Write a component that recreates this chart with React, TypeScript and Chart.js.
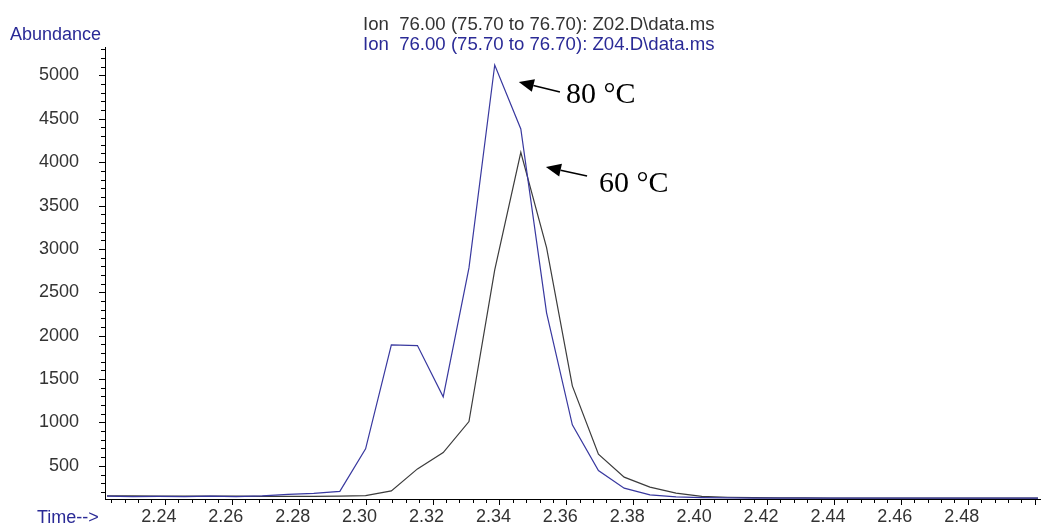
import { useEffect, useRef } from 'react';
import { Chart, registerables } from 'chart.js';

Chart.register(...registerables);

// Retention time (min) of each scan
const times = [
  2.2227, 2.2304, 2.2381, 2.2459, 2.2536, 2.2613, 2.2691, 2.2768, 2.2845, 2.2923,
  2.3000, 2.3077, 2.3155, 2.3232, 2.3309, 2.3386, 2.3464, 2.3541, 2.3618, 2.3696,
  2.3773, 2.3850, 2.3928, 2.4005, 2.4082, 2.4159, 2.4237, 2.4314, 2.4391, 2.4469,
  2.4546, 2.4623, 2.4701, 2.4778, 2.4855, 2.4933, 2.5010,
];

// Z04 (80 °C), blue trace
const abundanceZ04 = [
  150, 146, 148, 145, 152, 146, 155, 172, 183, 206,
  696, 1894, 1886, 1295, 2781, 5119, 4382, 2263, 972, 446,
  243, 166, 142, 134, 130, 128, 127, 128, 127, 127,
  128, 127, 127, 128, 127, 127, 127,
];

// Z02 (60 °C), black trace
const abundanceZ02 = [
  155, 154, 152, 150, 150, 150, 148, 148, 148, 150,
  158, 212, 465, 653, 1010, 2758, 4114, 3015, 1422, 635,
  370, 255, 186, 148, 138, 133, 131, 130, 129, 129,
  128, 128, 128, 128, 128, 128, 128,
];

const xTickValues = [2.24, 2.26, 2.28, 2.3, 2.32, 2.34, 2.36, 2.38, 2.4, 2.42, 2.44, 2.46, 2.48];
const yTickValues = [500, 1000, 1500, 2000, 2500, 3000, 3500, 4000, 4500, 5000];

const titleLines = [
  'Ion  76.00 (75.70 to 76.70): Z02.D\\data.ms',
  'Ion  76.00 (75.70 to 76.70): Z04.D\\data.ms',
];

// Arrow annotations in data units: [time, abundance]
const annotationLabels = ['80 °C', '60 °C'];
const annotationTips = [[2.3458, 4924], [2.3539, 3944]];
const annotationTails = [[2.3581, 4808], [2.3662, 3841]];

const BLUE = '#38389f';
const BLACK = '#3c3c3c';
const TEXT_BLUE = '#2a2a96';
const SANS = '"Liberation Sans", Arial, sans-serif';

const decorPlugin = {
  id: 'decor',
  afterDraw(chart: any) {
    const { ctx, chartArea } = chart;
    const xs = chart.scales.x;
    const ys = chart.scales.y;
    ctx.save();
    // tick marks
    ctx.strokeStyle = '#000';
    ctx.lineWidth = 1;
    for (let i = Math.ceil(xs.min / 0.004); i * 0.004 <= xs.max + 1e-9; i++) {
      const px = Math.round(xs.getPixelForValue(i * 0.004)) + 0.5;
      const major = i % 5 === 0;
      ctx.beginPath();
      ctx.moveTo(px, chartArea.bottom);
      ctx.lineTo(px, chartArea.bottom + (major ? 6 : 4));
      ctx.stroke();
    }
    for (let i = Math.ceil(ys.min / 100); i * 100 <= ys.max; i++) {
      const py = Math.round(ys.getPixelForValue(i * 100)) + 0.5;
      const major = i % 5 === 0;
      ctx.beginPath();
      ctx.moveTo(chartArea.left, py);
      ctx.lineTo(chartArea.left - (major ? 6 : 4), py);
      ctx.stroke();
    }

    // texts
    ctx.font = `18px ${SANS}`;
    ctx.textBaseline = 'alphabetic';
    ctx.textAlign = 'left';
    ctx.fillStyle = TEXT_BLUE;
    ctx.fillText('Abundance', 10, 40);
    ctx.fillText('Time-->', 37, 523);
    ctx.font = `18.6px ${SANS}`;
    ctx.fillStyle = '#333';
    ctx.fillText(titleLines[0], 363, 29.5);
    ctx.fillStyle = TEXT_BLUE;
    ctx.fillText(titleLines[1], 363, 50);

    // annotations
    ctx.fillStyle = '#000';
    ctx.strokeStyle = '#000';
    ctx.font = `30px "Liberation Serif", "Times New Roman", serif`;
    for (let i = 0; i < annotationLabels.length; i++) {
      const tx = xs.getPixelForValue(annotationTips[i][0]);
      const ty = ys.getPixelForValue(annotationTips[i][1]);
      const sx = xs.getPixelForValue(annotationTails[i][0]);
      const sy = ys.getPixelForValue(annotationTails[i][1]);
      const ang = Math.atan2(ty - sy, tx - sx);
      const hl = 15, hw = 6.5;
      const bx = tx - hl * Math.cos(ang);
      const by = ty - hl * Math.sin(ang);
      ctx.lineWidth = 1.6;
      ctx.beginPath();
      ctx.moveTo(sx, sy);
      ctx.lineTo(bx, by);
      ctx.stroke();
      ctx.beginPath();
      ctx.moveTo(tx, ty);
      ctx.lineTo(bx + hw * Math.sin(ang), by - hw * Math.cos(ang));
      ctx.lineTo(bx - hw * Math.sin(ang), by + hw * Math.cos(ang));
      ctx.closePath();
      ctx.fill();
      ctx.fillText(annotationLabels[i], sx + (i === 0 ? 6 : 12), sy + (i === 0 ? 11 : 16));
    }
    ctx.restore();
  },
};

export default function App() {
  const ref = useRef<HTMLCanvasElement | null>(null);

  useEffect(() => {
    if (!ref.current) return;
    const chart = new Chart(ref.current, {
      type: 'line',
      data: {
        datasets: [
          {
            label: 'Z04',
            data: times.map((t, i) => ({ x: t, y: abundanceZ04[i] })),
            borderColor: BLUE,
            borderWidth: 1.2,
            pointRadius: 0,
            tension: 0,
            fill: false,
          },
          {
            label: 'Z02',
            data: times.map((t, i) => ({ x: t, y: abundanceZ02[i] })),
            borderColor: BLACK,
            borderWidth: 1.2,
            pointRadius: 0,
            tension: 0,
            fill: false,
          },
        ],
      },
      options: {
        animation: false,
        responsive: false,
        devicePixelRatio: 1,
        layout: { padding: { top: 47, left: 0, right: 1, bottom: 0 } },
        plugins: {
          legend: { display: false },
          tooltip: { enabled: false },
          title: { display: false },
        },
        scales: {
          x: {
            type: 'linear',
            min: 2.2221,
            max: 2.5016,
            grid: { display: false, drawTicks: false },
            border: { display: true, color: '#000', width: 1 },
            afterBuildTicks: (s: any) => {
              s.ticks = xTickValues.map((v) => ({ value: v }));
            },
            afterFit: (s: any) => {
              s.height = 27;
              s.paddingLeft = 0;
              s.paddingRight = 0;
              s.paddingTop = 0;
              s.paddingBottom = 0;
            },
            ticks: {
              autoSkip: false,
              maxRotation: 0,
              padding: 7,
              labelOffset: -6,
              color: '#333',
              font: { family: SANS, size: 18 },
              callback: (v: any) => Number(v).toFixed(2),
            },
          },
          y: {
            type: 'linear',
            min: 118,
            max: 5327,
            grid: { display: false, drawTicks: false },
            border: { display: true, color: '#000', width: 1 },
            afterBuildTicks: (s: any) => {
              s.ticks = yTickValues.map((v) => ({ value: v }));
            },
            afterFit: (s: any) => {
              s.width = 105;
              s.paddingLeft = 0;
              s.paddingRight = 0;
              s.paddingTop = 0;
              s.paddingBottom = 0;
            },
            ticks: {
              autoSkip: false,
              padding: 26,
              color: '#333',
              font: { family: SANS, size: 18 },
              callback: (v: any) => String(v),
            },
          },
        },
      },
      plugins: [decorPlugin],
    });
    return () => chart.destroy();
  }, []);

  return (
    <div style={{ position: 'absolute', left: 0, top: 0, width: 1041, height: 526, background: '#fff' }}>
      <canvas ref={ref} width={1041} height={526} style={{ display: 'block', width: 1041, height: 526 }} />
    </div>
  );
}
